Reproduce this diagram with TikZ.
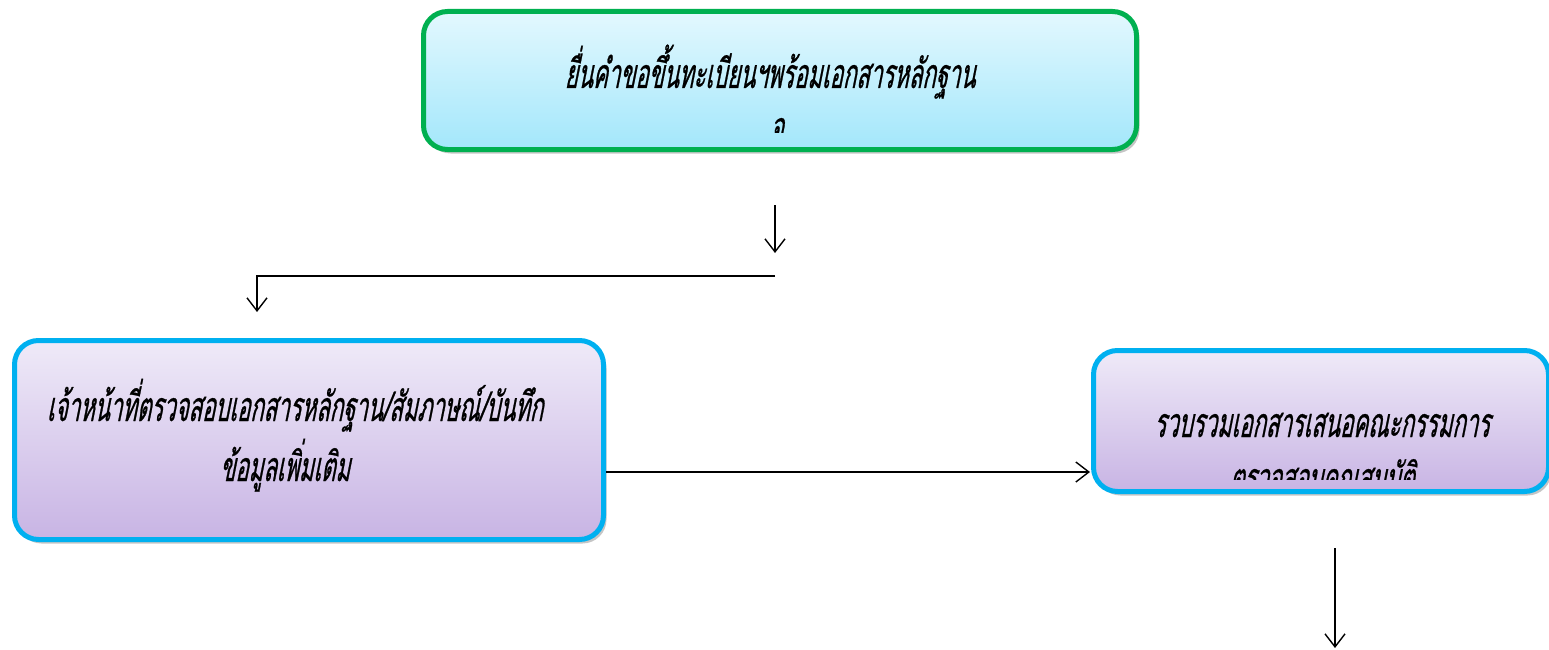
\documentclass[tikz,border=0pt]{standalone}
\usepackage{fontspec}
\newfontfamily\thaifont[Script=Thai,FakeSlant=0.2,FakeStretch=0.54,FakeBold=0.6]{Loma}
\usetikzlibrary{positioning,shadows,arrows.meta}
\definecolor{regtop}{HTML}{E3F8FE}
\definecolor{regbot}{HTML}{A3E7FB}
\definecolor{regline}{HTML}{00B050}
\definecolor{chktop}{HTML}{EFEAF8}
\definecolor{chkbot}{HTML}{C8B4E4}
\definecolor{chkline}{HTML}{00B0F0}
\tikzset{
	stepbox/.style={rounded corners=24pt, line width=5pt, inner sep=0pt,
		drop shadow={shadow xshift=3pt, shadow yshift=-4pt, fill=black!45}},
	regbox/.style={stepbox, draw=regline, top color=regtop, bottom color=regbot},
	chkbox/.style={stepbox, draw=chkline, top color=chktop, bottom color=chkbot},
	label/.style={anchor=base, inner sep=0pt, text height=22pt, text depth=4pt,
		font=\thaifont\fontsize{41}{44}\selectfont},
	flow/.style={line width=1.4pt, -{Straight Barb[length=13pt,width=20pt,line width=1.4pt]}}
}

\begin{document}
\begin{tikzpicture}[x=1pt,y=-1pt]
			\useasboundingbox (0,0) rectangle (1549,650);
			
			\node[regbox, minimum width=713pt, minimum height=138pt](reg) at (780,80.5) {};
			\node[chkbox, minimum width=589pt, minimum height=199pt](chk) at (309,440) {};
			\node[chkbox, minimum width=455pt, minimum height=141pt](col) at (1321,421) {};
			
			\node[label](reg1) at (770,88) {ยื่นคำขอขึ้นทะเบียนฯพร้อมเอกสารหลักฐาน};
			\begin{scope}
				\clip (430,100) rectangle (1130,133);
				\node[label](reg2) at (780,141) {จ.};
			\end{scope}
			\node[label](chk1) at (295,421) {เจ้าหน้าที่ตรวจสอบเอกสารหลักฐาน/สัมภาษณ์/บันทึก};
			\node[label](chk2) at (285,481) {ข้อมูลเพิ่มเติม};
			\node[label](col1) at (1322,437) {รวบรวมเอกสารเสนอคณะกรรมการ};
			\begin{scope}
				\clip (1100,445) rectangle (1540,479);
				\node[label](col2) at (1322,492) {ตรวจสอบคุณสมบัติ};
			\end{scope}
			
			\coordinate (a1s) at (775,205);
			\coordinate (a1e) at (775,253);
			\coordinate (a2s) at (775,276);
			\coordinate (a2m) at (257,276);
			\coordinate (a2e) at (257,312);
			\coordinate (a3s) at (606,472);
			\coordinate (a3e) at (1090,472);
			\coordinate (a4s) at (1335,548);
			\coordinate (a4e) at (1335,648);
			
			\draw[flow] (a1s) -- (a1e);
			\draw[flow] (a2s) -- (a2m) -- (a2e);
			\draw[flow] (a3s) -- (a3e);
			\draw[flow] (a4s) -- (a4e);
		\end{tikzpicture}
\end{document}
